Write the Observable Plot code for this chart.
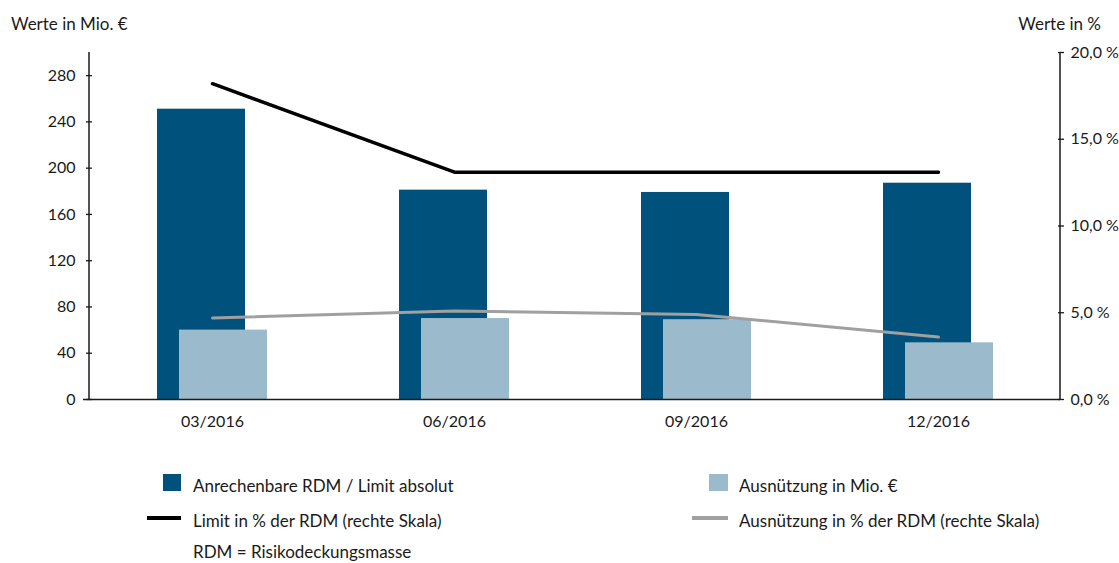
<!DOCTYPE html>
<html>
<head>
<meta charset="utf-8">
<script src="https://cdn.jsdelivr.net/npm/d3@7"></script>
<script src="https://cdn.jsdelivr.net/npm/@observablehq/plot@0.6"></script>
<style>
  body { margin: 0; background: #fff; font-family: Lato, "Open Sans", sans-serif; color: #1a1a1a; }
  #wrap { position: relative; width: 1119px; height: 563px; overflow: hidden; }
  .t { position: absolute; font-size: 17px; white-space: nowrap; line-height: 1; }
  .sw { position: absolute; }
</style>
</head>
<body>
<div id="wrap">
  <div class="t" style="left:11px; top:15px;">Werte in Mio. €</div>
  <div class="t" style="right:18px; top:15px;">Werte in %</div>
  <div id="chart" style="position:absolute; left:0; top:0;"></div>
  <div class="sw" style="left:163px; top:474px; width:18px; height:17px; background:#00527c;"></div>
  <div class="t" style="left:193px; top:477px;">Anrechenbare RDM / Limit absolut</div>
  <div class="sw" style="left:709px; top:474px; width:19px; height:17px; background:#9bbacb;"></div>
  <div class="t" style="left:739px; top:477px;">Ausnützung in Mio. €</div>
  <div class="sw" style="left:147px; top:516px; width:34px; height:4px; background:#000;"></div>
  <div class="t" style="left:193px; top:512px;">Limit in % der RDM (rechte Skala)</div>
  <div class="sw" style="left:692px; top:516px; width:36px; height:4px; background:#a0a0a0;"></div>
  <div class="t" style="left:739px; top:512px;">Ausnützung in % der RDM (rechte Skala)</div>
  <div class="t" style="left:193px; top:543px;">RDM = Risikodeckungsmasse</div>
</div>
<script>
const categories = ["03/2016", "06/2016", "09/2016", "12/2016"];
const rdm = [251, 181, 179, 187];
const ausnutzung = [60, 70, 69, 49];
const limitPct = [18.2, 13.1, 13.1, 13.1];
const ausnutzungPct = [4.7, 5.1, 4.9, 3.6];
const leftTicks = [0, 40, 80, 120, 160, 200, 240, 280];
const rightTicks = [0, 5, 10, 15, 20];

const leftMax = 300, rightMax = 20;
const k = leftMax / rightMax;

const data = categories.map((c, i) => ({
  cat: c, rdm: rdm[i], aus: ausnutzung[i], limitPct: limitPct[i], ausPct: ausnutzungPct[i]
}));

const fmtPct = v => (v).toFixed(1).replace(".", ",") + "\u202F%";

const chart = Plot.plot({
  width: 1119,
  height: 440,
  marginLeft: 89,
  marginRight: 59,
  marginTop: 52,
  marginBottom: 41,
  style: { fontFamily: "Lato, 'Open Sans', sans-serif", fontSize: "16px", color: "#1a1a1a", background: "transparent" },
  x: { domain: categories, padding: 0, axis: null },
  y: { domain: [0, leftMax], axis: null },
  marks: [
    Plot.barY(data, { x: "cat", y: "rdm", fill: "#00527c", insetLeft: 77, insetRight: 77, dx: -11 }),
    Plot.barY(data, { x: "cat", y: "aus", fill: "#9bbacb", insetLeft: 77, insetRight: 77, dx: 11 }),
    Plot.lineY(data, { x: "cat", y: d => d.limitPct * k, stroke: "#000", strokeWidth: 3.5 }),
    Plot.lineY(data, { x: "cat", y: d => d.ausPct * k, stroke: "#a0a0a0", strokeWidth: 3 }),
    Plot.axisY({ anchor: "left", ticks: leftTicks, tickSize: 6, tickPadding: 11, dx: 3, label: null, stroke: "#1a1a1a", strokeWidth: 1.3 }),
    Plot.axisY({ anchor: "right", ticks: rightTicks.map(v => v * k), tickFormat: v => fmtPct(v / k), tickSize: 6, tickPadding: 7, dx: -3, label: null, stroke: "#1a1a1a", strokeWidth: 1.3 }),
    Plot.axisX({ anchor: "bottom", tickSize: 0, tickPadding: 16, label: null }),
    Plot.ruleY([0], { stroke: "#1a1a1a", strokeWidth: 1.5, insetLeft: -6 })
  ]
});

// vertical axis lines along both sides of the frame, taken from the chart's own scales
const xs = chart.scale("x").range, ys = chart.scale("y").range;
const svg = d3.select(chart.tagName.toLowerCase() === "svg" ? chart : chart.querySelector("svg"));
for (const xv of [xs[0], xs[1]]) {
  svg.append("line").attr("x1", xv).attr("x2", xv).attr("y1", ys[0]).attr("y2", ys[1])
    .attr("stroke", "#1a1a1a").attr("stroke-width", 1.5);
}
document.getElementById("chart").appendChild(chart);
</script>
</body>
</html>
